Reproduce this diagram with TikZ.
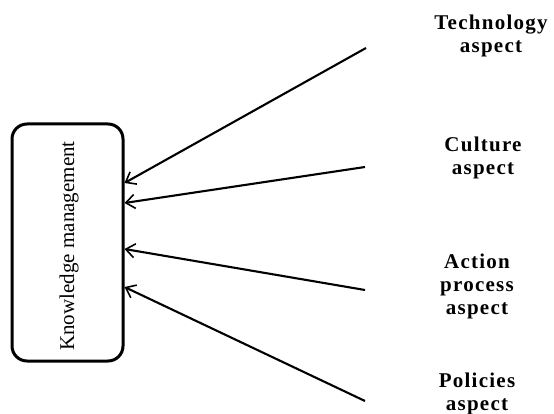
\documentclass[tikz,border=0pt]{standalone}
\usepackage{fontspec}
\setmainfont{Liberation Serif}
\usetikzlibrary{arrows.meta}
\begin{document}
\begin{tikzpicture}[x=1pt,y=-1pt,
  kmbox/.style={draw,line width=3pt,rounded corners=15pt,minimum width=111pt,minimum height=237pt,inner sep=0pt},
  arr/.style={line width=2.1pt,-{Straight Barb[length=9pt,width=14pt,line width=1.6pt]}},
  aspectlabel/.style={align=center,anchor=north,inner sep=0pt,font={\fontsize{21}{23}\selectfont\bfseries\addfontfeature{LetterSpace=6}}}]
\useasboundingbox (0,0) rectangle (554,414);
\node[kmbox] (box) at (67.5,242.5) {};
\node[rotate=90,font={\fontsize{21}{24}\selectfont}] (kmtext) at (69,246) {Knowledge management};
\node[aspectlabel] (tech) at (491,15) {Technology\\aspect};
\node[aspectlabel] (cult) at (483,137) {Culture\\aspect};
\node[aspectlabel] (act) at (477,254) {Action\\process\\aspect};
\node[aspectlabel] (pol) at (477,373) {Policies\\aspect};
\coordinate (s1) at (366,48);
\coordinate (s2) at (365,167);
\coordinate (s3) at (365,290);
\coordinate (s4) at (365,401);
\draw[arr] (s1) -- ([yshift=59.5pt]box.east);
\draw[arr] (s2) -- ([yshift=39.5pt]box.east);
\draw[arr] (s3) -- ([yshift=-6.5pt]box.east);
\draw[arr] (s4) -- ([yshift=-44.5pt]box.east);
\end{tikzpicture}
\end{document}
